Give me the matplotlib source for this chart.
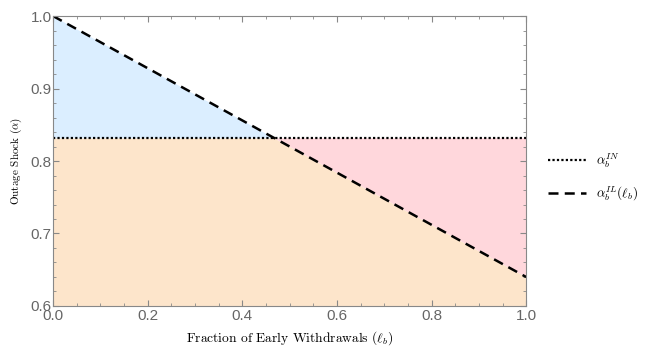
import numpy as np
import matplotlib
matplotlib.use('Agg')
import matplotlib.pyplot as plt
from matplotlib.ticker import MultipleLocator

plt.rcParams['mathtext.fontset'] = 'cm'

# thresholds
alpha_in = 0.832
il_start = 1.0
il_end = 0.64
x_ticks = [0.0, 0.2, 0.4, 0.6, 0.8, 1.0]
y_ticks = [0.6, 0.7, 0.8, 0.9, 1.0]

ell = np.array([0.0, 1.0])
alpha_il = np.array([il_start, il_end])
xs = np.linspace(0, 1, 401)
il_line = np.interp(xs, ell, alpha_il)
in_line = np.full_like(xs, alpha_in)

fig = plt.figure(figsize=(6.52, 3.48), dpi=100)
ax = fig.add_axes([0.0813, 0.1207, 0.7257, 0.8333])

# shaded regions: below both lines, above IN line, above IL line
ax.fill_between(xs, 0.6, np.minimum(il_line, in_line), color='#fde5cb', lw=0)
ax.fill_between(xs, in_line, il_line, where=il_line >= in_line, color='#dbeeff', lw=0, interpolate=True)
ax.fill_between(xs, il_line, in_line, where=il_line <= in_line, color='#ffd7dc', lw=0, interpolate=True)

ax.plot(xs, in_line, color='black', ls=(0, (1, 1)), lw=1.6, label=r'$\alpha_b^{IN}$')
ax.plot(ell, alpha_il, color='black', ls=(0, (4, 2.5)), lw=1.8, label=r'$\alpha_b^{IL}(\ell_b)$')

ax.set_xlim(0, 1)
ax.set_ylim(0.6, 1.0)
ax.set_xticks(x_ticks)
ax.set_yticks(y_ticks)
ax.xaxis.set_minor_locator(MultipleLocator(0.05))
ax.yaxis.set_minor_locator(MultipleLocator(0.02))
ax.tick_params(which='both', direction='in', top=True, right=True, color='#888888')
ax.tick_params(which='major', length=4, labelsize=11, labelcolor='#666666', pad=1)
ax.tick_params(axis='x', which='major', pad=2)
ax.tick_params(which='minor', length=2)
for lbl in ax.get_xticklabels() + ax.get_yticklabels():
    lbl.set_family('Liberation Sans')
for s in ax.spines.values():
    s.set_color('#888888')

ax.set_xlabel(r'Fraction of Early Withdrawals $(\ell_b)$', family='cmr10', fontsize=9.7, labelpad=5)
ax.set_ylabel(r'Outage Shock $(\alpha)$', family='cmr10', fontsize=8, labelpad=5)

ax.legend(loc='center left', bbox_to_anchor=(1.02, 0.445), frameon=False, fontsize=9.5,
          handlelength=2.9, handletextpad=0.8, labelspacing=1.1)

fig.savefig('out.png', dpi=100)
